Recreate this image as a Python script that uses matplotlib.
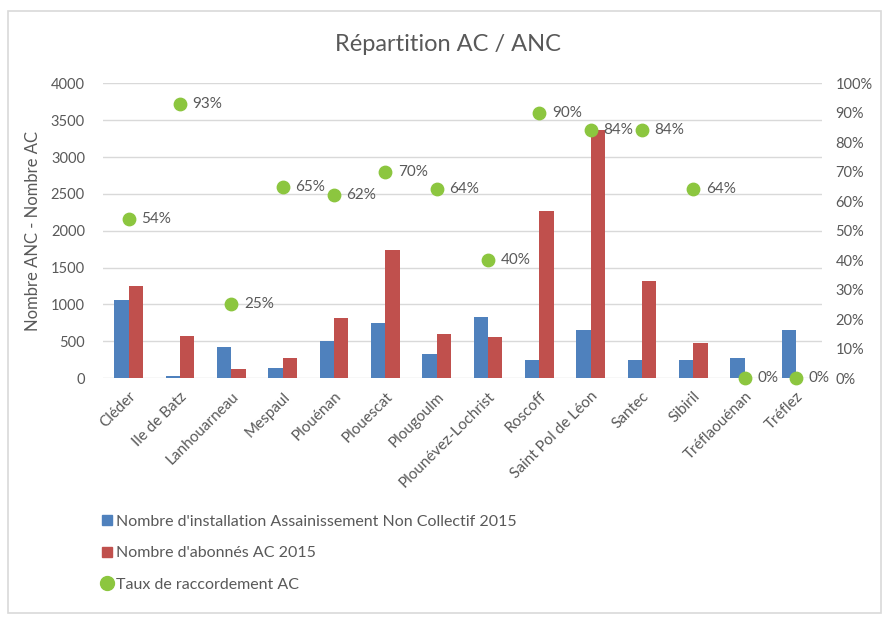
import matplotlib.pyplot as plt
from matplotlib.patches import Rectangle
from matplotlib.lines import Line2D
import numpy as np

communes = ["Cléder", "Ile de Batz", "Lanhouarneau", "Mespaul", "Plouénan",
            "Plouescat", "Plougoulm", "Plounévez-Lochrist", "Roscoff",
            "Saint Pol de Léon", "Santec", "Sibiril", "Tréflaouénan", "Tréflez"]
anc_2015 = [1060, 30, 420, 140, 500, 750, 330, 830, 250, 660, 250, 250, 280, 650]
ac_2015 = [1250, 570, 130, 280, 810, 1740, 600, 560, 2270, 3370, 1320, 480, 0, 0]
taux_ac = [54, 93, 25, 65, 62, 70, 64, 40, 90, 84, 84, 64, 0, 0]

BLUE = "#4F81BD"
RED = "#C0504D"
GREEN = "#8CC63F"
TXT = "#595959"

plt.rcParams["font.family"] = ["Lato", "DejaVu Sans"]

fig = plt.figure(figsize=(8.84, 6.17), dpi=100)
# chart frame
fig.patches.append(Rectangle((0.009, 0.006), 0.988, 0.976, transform=fig.transFigure,
                             fill=False, edgecolor="#D9D9D9", linewidth=1.2))

ax = fig.add_axes([0.1165, 0.387, 0.813, 0.478])
x = np.arange(len(communes))
w = 0.28
ax.bar(x - w / 2, anc_2015, w, color=BLUE, zorder=2)
ax.bar(x + w / 2, ac_2015, w, color=RED, zorder=2)

ax.set_xlim(-0.5, len(communes) - 0.5)
ax.set_ylim(0, 4000)
ax.set_yticks(range(0, 4001, 500))
ax.grid(axis="y", color="#D9D9D9", linewidth=1, zorder=0)
for s in ax.spines.values():
    s.set_visible(False)
ax.tick_params(length=0, colors=TXT, labelsize=10.5)
ax.tick_params(axis="y", pad=13)
ax.set_xticks(x)
ax.set_xticklabels(communes, rotation=45, ha="right", rotation_mode="anchor",
                   fontsize=11)
ax.tick_params(axis="x", pad=8)
ax.set_ylabel("Nombre ANC - Nombre AC", color=TXT, fontsize=12, labelpad=7)

ax2 = ax.twinx()
ax2.set_ylim(0, 1)
ax2.set_yticks(np.linspace(0, 1, 11))
ax2.set_yticklabels([f"{int(v)}%" for v in np.linspace(0, 100, 11)])
for s in ax2.spines.values():
    s.set_visible(False)
ax2.tick_params(length=0, colors=TXT, labelsize=10.5, pad=10)
rates = [t / 100 for t in taux_ac]
ax2.scatter(x, rates, s=80, color=GREEN, zorder=3, clip_on=False)
for xi, r, t in zip(x, rates, taux_ac):
    ax2.annotate(f"{t}%", (xi, r), xytext=(9, 0), textcoords="offset points",
                 va="center", ha="left", color=TXT, fontsize=11)

fig.text(0.507, 0.928, "Répartition AC / ANC", ha="center", va="center",
         fontsize=17, color=TXT)

handles = [
    Line2D([], [], marker="s", linestyle="none", color=BLUE, markersize=7),
    Line2D([], [], marker="s", linestyle="none", color=RED, markersize=7),
    Line2D([], [], marker="o", linestyle="none", color=GREEN, markersize=10),
]
labels = ["Nombre d'installation Assainissement Non Collectif 2015",
          "Nombre d'abonnés AC 2015",
          "Taux de raccordement AC"]
leg = fig.legend(handles, labels, loc="upper left",
                 bbox_to_anchor=(0.108, 1 - 508 / 617),
                 frameon=False, fontsize=11.5, labelspacing=1.1, handlelength=0.6,
                 handletextpad=0.3, borderaxespad=0)
for t in leg.get_texts():
    t.set_color(TXT)

fig.savefig("out.png", dpi=100)
